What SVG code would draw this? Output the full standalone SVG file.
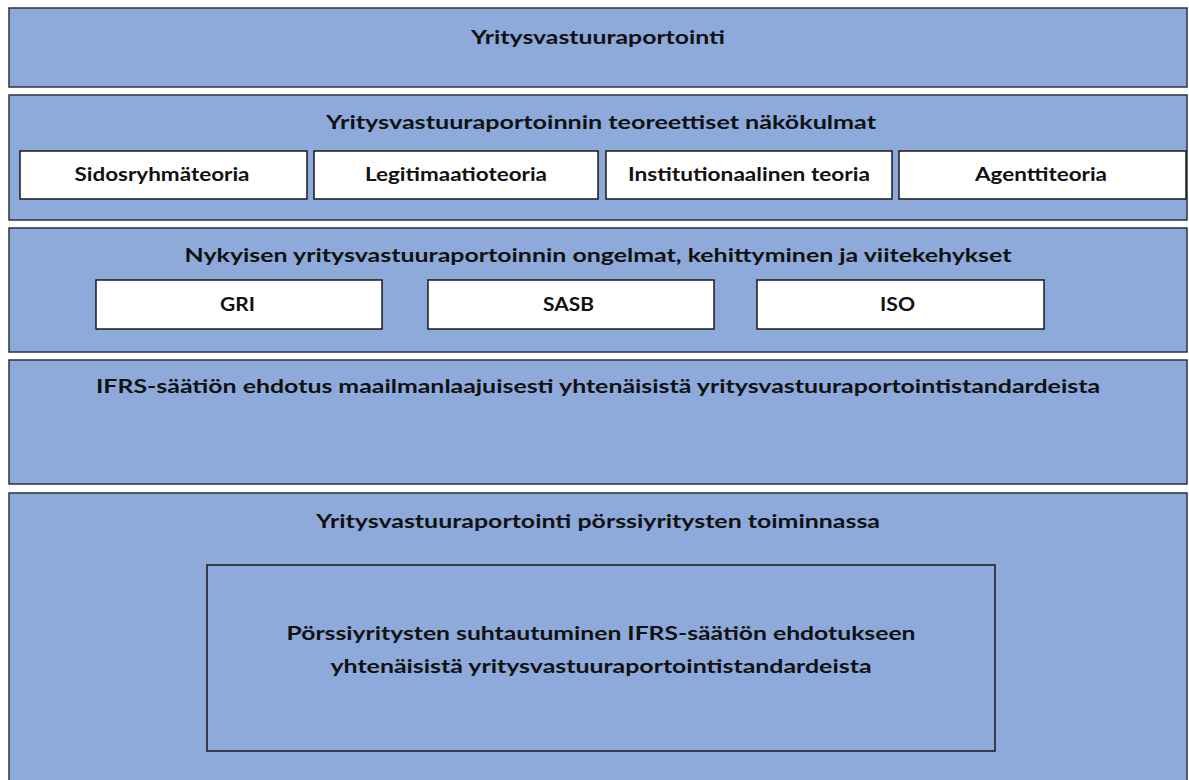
<svg xmlns="http://www.w3.org/2000/svg" width="1189" height="780" viewBox="0 0 1189 780">
<style>
.band{fill:#8eaadb;stroke:#2b3340;stroke-width:1.5}
.inner{fill:#ffffff;stroke:#1a1a1a;stroke-width:1.5}
.frame{fill:none;stroke:#1a1a1a;stroke-width:1.5}
text{font-family:Lato,"Liberation Sans",sans-serif;font-weight:bold;font-size:19.5px;fill:#111;text-anchor:middle}
</style>
<rect width="1189" height="780" fill="#ffffff"/>
<g id="band1"><rect class="band" x="9" y="8" width="1178" height="79"/><text x="598" y="44" textLength="254" lengthAdjust="spacingAndGlyphs">Yritysvastuuraportointi</text></g>
<g id="band2"><rect class="band" x="9" y="95" width="1178" height="125"/><text x="601" y="129" textLength="550" lengthAdjust="spacingAndGlyphs">Yritysvastuuraportoinnin teoreettiset näkökulmat</text></g>
<g id="sidos"><rect class="inner" x="20" y="151" width="287" height="48"/><text x="162" y="181" textLength="175" lengthAdjust="spacingAndGlyphs">Sidosryhmäteoria</text></g>
<g id="legit"><rect class="inner" x="314" y="151" width="284" height="48"/><text x="456" y="181" textLength="182" lengthAdjust="spacingAndGlyphs">Legitimaatioteoria</text></g>
<g id="instit"><rect class="inner" x="606" y="151" width="286" height="48"/><text x="749" y="181" textLength="242" lengthAdjust="spacingAndGlyphs">Institutionaalinen teoria</text></g>
<g id="agentti"><rect class="inner" x="899" y="151" width="287" height="48"/><text x="1041" y="181" textLength="132" lengthAdjust="spacingAndGlyphs">Agenttiteoria</text></g>
<g id="band3"><rect class="band" x="9" y="228" width="1178" height="124"/><text x="598" y="262" textLength="827" lengthAdjust="spacingAndGlyphs">Nykyisen yritysvastuuraportoinnin ongelmat, kehittyminen ja viitekehykset</text></g>
<g id="gri"><rect class="inner" x="96" y="280" width="286" height="49"/><text x="237.5" y="311" textLength="35" lengthAdjust="spacingAndGlyphs">GRI</text></g>
<g id="sasb"><rect class="inner" x="428" y="280" width="286" height="49"/><text x="568.5" y="311" textLength="51" lengthAdjust="spacingAndGlyphs">SASB</text></g>
<g id="iso"><rect class="inner" x="757" y="280" width="287" height="49"/><text x="897.5" y="311" textLength="35" lengthAdjust="spacingAndGlyphs">ISO</text></g>
<g id="band4"><rect class="band" x="9" y="360" width="1178" height="124"/><text x="598" y="393" textLength="1004" lengthAdjust="spacingAndGlyphs">IFRS-säätiön ehdotus maailmanlaajuisesti yhtenäisistä yritysvastuuraportointistandardeista</text></g>
<g id="band5"><rect class="band" x="9" y="493" width="1178" height="300"/><text x="598" y="528" textLength="564" lengthAdjust="spacingAndGlyphs">Yritysvastuuraportointi pörssiyritysten toiminnassa</text></g>
<g id="inner5"><rect class="frame" x="207" y="565" width="788" height="186"/><text x="601" y="640" textLength="629" lengthAdjust="spacingAndGlyphs">Pörssiyritysten suhtautuminen IFRS-säätiön ehdotukseen</text><text x="601" y="673" textLength="541" lengthAdjust="spacingAndGlyphs">yhtenäisistä yritysvastuuraportointistandardeista</text></g>
</svg>
